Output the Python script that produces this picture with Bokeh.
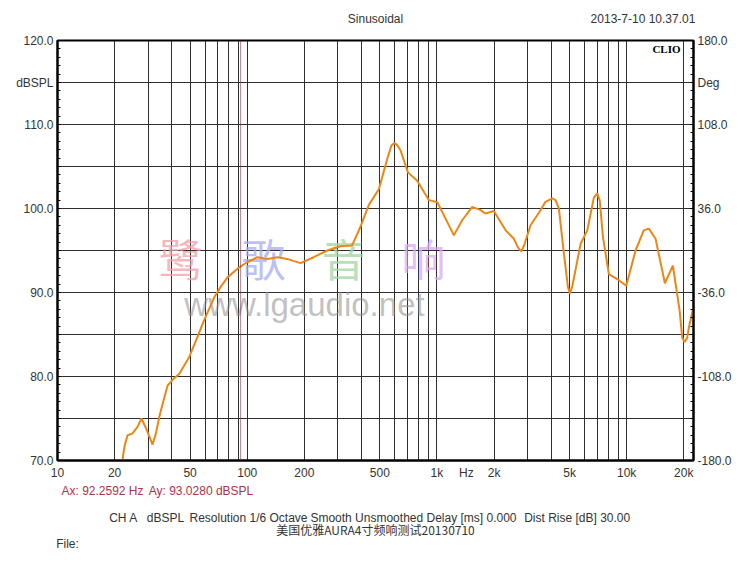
import math
from bokeh.plotting import figure
from bokeh.models import Range1d, LinearAxis, LogAxis, FixedTicker, Label, Span
from bokeh.embed import file_html
from bokeh.resources import INLINE

# ---- data ----
freq = [21.9, 22.6, 23.4, 24.8, 26.4, 27.7, 29.6, 31.7, 33.0, 34.4, 36.2, 38.0, 40.4,
        43.8, 49.4, 54.2, 59.3, 66.9, 72.6, 78.7, 90.7, 100, 113, 128, 144.5, 162,
        191, 224, 264, 310, 357, 395, 437, 494, 547, 575, 598, 620, 643, 703, 787, 853, 906,
        1004, 1110, 1228, 1358, 1535, 1699, 1800, 1995, 2302, 2543, 2667, 2781, 2869, 3115,
        3516, 3733, 4052, 4217, 4392, 4670, 4898, 5020, 5165, 5717, 6200, 6714, 6995, 7216,
        7500, 8057, 8918, 9945, 11140, 12300, 13090, 14200, 15900, 17520, 19000, 19630,
        20200, 20840, 21300, 22400]
spl = [69.8, 71.8, 73.0, 73.2, 74.0, 75.0, 73.6, 71.9, 73.2, 75.2, 77.1, 78.9, 79.6,
       80.3, 82.3, 84.5, 86.7, 89.4, 90.7, 91.8, 93.0, 93.6, 94.2, 94.0, 94.2, 94.0,
       93.5, 94.2, 95.0, 95.5, 95.6, 97.8, 100.4, 102.3, 105.9, 107.5, 107.8, 107.5, 106.9,
       104.3, 103.3, 102.0, 101.0,
       100.75, 98.8, 96.8, 98.6, 100.2, 99.8, 99.4, 99.7, 97.4, 96.4, 95.4, 94.9, 95.5, 98.0,
       99.8, 100.8, 101.2, 101.0, 100.0, 94.6, 90.7, 89.9, 90.7, 95.8, 97.4, 101.3, 101.8,
       100.9, 96.6, 92.2, 91.6, 90.8, 95.0, 97.4, 97.6, 96.4, 91.1, 93.2, 87.9, 84.6,
       84.1, 84.6, 85.9, 88.1]

x_tick_values = [10, 20, 50, 100, 200, 500, 1000, 1430, 2000, 5000, 10000, 20000]
x_tick_labels = ["10", "20", "50", "100", "200", "500", "1k", "Hz", "2k", "5k", "10k", "20k"]
x_grid_values = [20, 30, 40, 50, 60, 70, 80, 90, 100, 200, 300, 400, 500, 600, 700, 800, 900,
                 1000, 2000, 3000, 4000, 5000, 6000, 7000, 8000, 9000, 10000, 20000]
y_tick_values = [70, 80, 90, 100, 110, 115, 120]
y_tick_labels = ["70.0", "80.0", "90.0", "100.0", "110.0", "dBSPL", "120.0"]
deg_tick_values = [-180, -108, -36, 36, 108, 144, 180]
deg_tick_labels = ["-180.0", "-108.0", "-36.0", "36.0", "108.0", "Deg", "180.0"]
cursor_hz = 92.2592
cursor_db = 93.0280

header_texts = ["Sinusoidal", "2013-7-10 10.37.01"]
cursor_texts = ["Ax: %.4f Hz" % cursor_hz, "Ay: %.4f dBSPL" % cursor_db]
setting_texts = ["CH A", "dBSPL", "Resolution 1/6 Octave", "Smooth Unsmoothed",
                 "Delay [ms] 0.000", "Dist Rise [dB] 30.00"]
caption_text = "美国优雅AURA4寸频响测试20130710"
file_text = "File:"

X0, X1 = 10, 22500
Y0, Y1 = 70, 120
FL, FR, FT, FB = 57, 693, 40, 460  # frame edges in page pixels


def fx(px):  # page pixel -> frequency (text placement only)
    return round(X0 * 10 ** ((px - FL) / (FR - FL) * math.log10(X1 / X0)), 2)


def fy(py):  # page pixel -> dB (text placement only)
    return Y1 - (py - FT) / (FB - FT) * (Y1 - Y0)


FONT = "Liberation Sans"
TXT = "#333333"

p = figure(width=742, height=556, x_axis_type="log",
           x_range=Range1d(X0, X1), y_range=Range1d(Y0, Y1),
           output_backend="svg", toolbar_location=None,
           min_border_left=57, min_border_right=49, min_border_top=40, min_border_bottom=96)
p.background_fill_color = "white"
p.border_fill_color = "white"
p.outline_line_color = "black"
p.outline_line_width = 2

# grids
p.xgrid.ticker = FixedTicker(ticks=x_grid_values)
p.ygrid.ticker = FixedTicker(ticks=list(range(70, 121, 5)))
for g in (p.xgrid, p.ygrid):
    g.grid_line_color = "#2e2e2e"
    g.grid_line_width = 1

# axes
p.extra_y_ranges = {"deg": Range1d(-180, 180)}
right = LinearAxis(y_range_name="deg")
p.add_layout(right, "right")

p.xaxis.ticker = FixedTicker(ticks=x_tick_values, minor_ticks=[])
p.xaxis.major_label_overrides = {v: t for v, t in zip(x_tick_values, x_tick_labels)}
p.yaxis[0].ticker = FixedTicker(ticks=y_tick_values, minor_ticks=list(range(70, 121)))
p.yaxis[0].major_label_overrides = {v: t for v, t in zip(y_tick_values, y_tick_labels)}
right.ticker = FixedTicker(ticks=deg_tick_values, minor_ticks=[-180 + 7.2 * i for i in range(51)])
right.major_label_overrides = {v: t for v, t in zip(deg_tick_values, deg_tick_labels)}

for ax in (p.xaxis[0], p.yaxis[0], right):
    ax.axis_line_color = "black"
    ax.axis_line_width = 2
    ax.major_tick_in = 0
    ax.major_tick_out = 0
    ax.minor_tick_in = 3
    ax.minor_tick_out = 0
    ax.minor_tick_line_color = "black"
    ax.major_label_text_font = FONT
    ax.major_label_text_font_size = "12px"
    ax.major_label_text_color = TXT
    ax.major_label_standoff = 4
p.xaxis[0].major_label_standoff = 5


def text_axis(place, centers, texts, standoff, color=TXT, font=FONT):
    ticks = [fx(c) for c in centers]
    ax = LogAxis(ticker=FixedTicker(ticks=ticks, minor_ticks=[]),
                 major_label_overrides={t: s for t, s in zip(ticks, texts)})
    ax.axis_line_color = None
    ax.major_tick_line_color = None
    ax.minor_tick_line_color = None
    ax.major_tick_in = 0
    ax.major_tick_out = 0
    ax.major_label_standoff = standoff
    ax.major_label_text_font = font
    ax.major_label_text_font_size = "12px"
    ax.major_label_text_color = color
    p.add_layout(ax, place)
    return ax


# header row (above) and footer rows (below)
text_axis("above", [375, 642.5], header_texts, 15)
text_axis("below", [102, 200.5], cursor_texts, 1, color="#b0304c")
text_axis("below", [123, 165, 248, 366.3, 471, 576.7], setting_texts, 10)
text_axis("below", [375], [caption_text], -7, font="Noto Sans CJK SC")
text_axis("below", [67], [file_text], -4)

# watermark
wm = [("鹭", 180, "#f2a0a8"), ("歌", 263, "#a8acf2"), ("音", 343, "#a2d8a2"), ("响", 423, "#dcaaf2")]
for ch, px, col in wm:
    p.add_layout(Label(x=fx(px), y=fy(257), text=ch, text_align="center", text_baseline="middle",
                       text_font="Noto Sans CJK SC", text_font_size="44px", text_color=col,
                       text_alpha=0.75, level="underlay"))
p.add_layout(Label(x=fx(304), y=fy(304), text="www.lgaudio.net", text_align="center",
                   text_baseline="middle", text_font=FONT, text_font_size="33px",
                   text_color="#8c8c8c", text_alpha=0.55, level="underlay"))

p.add_layout(Label(x=fx(680), y=fy(48), text="CLIO", text_align="right", text_baseline="middle",
                   text_font="Liberation Serif", text_font_size="11px", text_color="black",
                   text_font_style="bold"))

# cursor
p.add_layout(Span(location=cursor_hz, dimension="height", line_color="#7a2040",
                  line_dash="1 1", line_width=1.2))

# curve
p.line(freq, spl, line_color="#ee8616", line_width=2)

open("out.html", "w").write(file_html(p, INLINE))
